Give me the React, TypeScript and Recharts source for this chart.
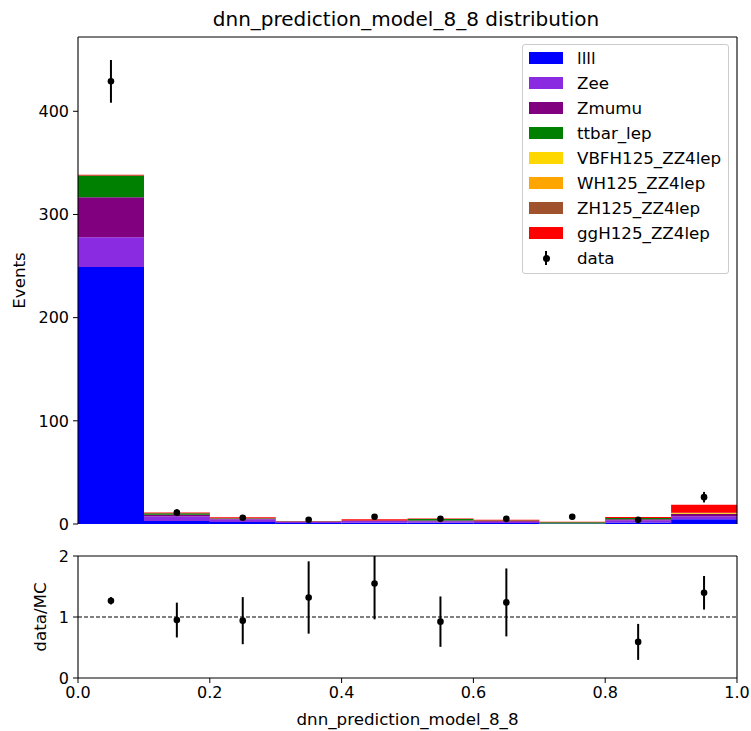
import React from 'react';
import { ComposedChart, Bar, Line, XAxis, YAxis, ErrorBar, ReferenceLine } from 'recharts';

const bins = ['0.05', '0.15', '0.25', '0.35', '0.45', '0.55', '0.65', '0.75', '0.85', '0.95'];
const binCenters = [0.05, 0.15, 0.25, 0.35, 0.45, 0.55, 0.65, 0.75, 0.85, 0.95];
const xTicks = [0, 0.2, 0.4, 0.6, 0.8, 1.0];
const eventTicks = [0, 100, 200, 300, 400];
const ratioTicks = [0, 1, 2];

const llll = [249, 3.0, 2.0, 1.0, 1.3, 1.2, 1.0, 0.4, 1.5, 4.5];
const Zee = [29, 4.5, 2.5, 1.0, 1.5, 1.5, 1.2, 0.1, 2.2, 2.9];
const Zmumu = [38.7, 1.5, 0.7, 0.4, 0.5, 0.8, 0.8, 0.1, 1.0, 2.2];
const ttbar_lep = [21, 1.5, 0.3, 0.2, 0.2, 1.4, 0.3, 1.2, 1.0, 0.4];
const VBFH125_ZZ4lep = [0.1, 0, 0, 0, 0, 0, 0, 0, 0, 0.6];
const WH125_ZZ4lep = [0, 0, 0, 0, 0, 0, 0, 0, 0, 0.1];
const ZH125_ZZ4lep = [0, 0, 0, 0, 0, 0, 0, 0, 0, 0.2];
const ggH125_ZZ4lep = [0.8, 0.7, 1.0, 0.4, 1.0, 0.5, 0.7, 0.3, 1.0, 7.8];

const dataCounts = [429, 11, 6, 4, 7, 5, 5, 7, 4, 26];
const dataErrors = [20.7, 3.3, 2.4, 2.0, 2.6, 2.2, 2.2, 2.6, 2.0, 5.1];

const ratioValues = [1.266, 0.95, 0.94, 1.32, 1.549, 0.924, 1.239, null, 0.592, 1.397];
const ratioErrors = [0.06, 0.285, 0.386, 0.593, 0.587, 0.413, 0.557, null, 0.295, 0.275];

const series = [
  { key: 'llll', label: 'llll', color: '#0000ff', values: llll },
  { key: 'Zee', label: 'Zee', color: '#8a2be2', values: Zee },
  { key: 'Zmumu', label: 'Zmumu', color: '#800080', values: Zmumu },
  { key: 'ttbar_lep', label: 'ttbar_lep', color: '#008000', values: ttbar_lep },
  { key: 'VBFH125_ZZ4lep', label: 'VBFH125_ZZ4lep', color: '#ffd700', values: VBFH125_ZZ4lep },
  { key: 'WH125_ZZ4lep', label: 'WH125_ZZ4lep', color: '#ffa500', values: WH125_ZZ4lep },
  { key: 'ZH125_ZZ4lep', label: 'ZH125_ZZ4lep', color: '#a0522d', values: ZH125_ZZ4lep },
  { key: 'ggH125_ZZ4lep', label: 'ggH125_ZZ4lep', color: '#ff0000', values: ggH125_ZZ4lep },
];

const mainData = bins.map((b, i) => {
  const row: any = { bin: b, x: binCenters[i], data: dataCounts[i], dataErr: dataErrors[i] };
  series.forEach((s) => { row[s.key] = s.values[i]; });
  return row;
});

const ratioData = bins.map((b, i) => ({ bin: b, x: binCenters[i], ratio: ratioValues[i], ratioErr: ratioErrors[i] }));

const FONT = '"DejaVu Sans", sans-serif';
const tickStyle = { fill: '#000', fontSize: 16, fontFamily: FONT };
const tickStyleRatio = { fill: '#000', fontSize: 16, fontFamily: FONT };
const axisLine = { stroke: '#000', strokeWidth: 1.1 };
const frame = { stroke: '#000', strokeWidth: 1.1 };

export default function App() {
  return (
    <div style={{ position: 'absolute', left: 0, top: 0, width: 751, height: 731, background: '#fff', fontFamily: FONT }}>
      <div style={{ position: 'absolute', left: 0, width: 812, top: 7, textAlign: 'center', fontSize: 20, lineHeight: '24px', color: '#000' }}>
        dnn_prediction_model_8_8 distribution
      </div>

      <div style={{ position: 'absolute', left: 0, top: 0 }}>
        <ComposedChart width={751} height={540} data={mainData} margin={{ top: 37, right: 14, left: 18, bottom: 0 }} barCategoryGap={0} barGap={0}>
          <XAxis xAxisId="cat" dataKey="bin" type="category" scale="band" hide />
          <XAxis xAxisId="num" dataKey="x" type="number" domain={[0, 1]} ticks={xTicks} allowDataOverflow height={16}
            tickFormatter={() => ''} tickSize={5} axisLine={axisLine} tickLine={{ stroke: '#000' }} />
          <YAxis yAxisId="l" type="number" domain={[0, 472]} ticks={eventTicks} allowDataOverflow width={60}
            tick={tickStyle} tickSize={5} tickMargin={4} axisLine={axisLine} tickLine={{ stroke: '#000' }}
            label={{ content: () => (
              <text x={18.5} y={280.5} transform="rotate(-90, 18.5, 280.5)" textAnchor="middle" dominantBaseline="central"
                style={{ fontSize: 16.7, fontFamily: FONT, fill: '#000' }}>Events</text>
            ) }} />
          {series.map((s) => (
            <Bar key={s.key} xAxisId="cat" yAxisId="l" dataKey={s.key} stackId="mc" fill={s.color} stroke="none" isAnimationActive={false} />
          ))}
          <ReferenceLine xAxisId="num" yAxisId="l" y={472} {...frame} />
          <ReferenceLine xAxisId="num" yAxisId="l" x={1} {...frame} />
          <Line xAxisId="num" yAxisId="l" dataKey="data" stroke="none" isAnimationActive={false}
            dot={{ r: 3.3, fill: '#000', stroke: '#000', strokeWidth: 0 }} activeDot={false}>
            <ErrorBar dataKey="dataErr" width={0} stroke="#000" strokeWidth={2} direction="y" />
          </Line>
        </ComposedChart>
      </div>

      <div style={{ position: 'absolute', left: 522, top: 44, width: 207, height: 230, border: '1px solid #cccccc', borderRadius: 3, background: 'rgba(255,255,255,0.8)', boxSizing: 'border-box' }}>
        {series.map((s, i) => (
          <div key={s.key} style={{ position: 'absolute', left: 0, top: 13 + i * 25 - 12, height: 24, width: '100%' }}>
            <div style={{ position: 'absolute', left: 6, top: 6, width: 34, height: 12, background: s.color }} />
            <div style={{ position: 'absolute', left: 54, top: 0, fontSize: 16.7, lineHeight: '24px', color: '#000', whiteSpace: 'nowrap' }}>{s.label}</div>
          </div>
        ))}
        <div style={{ position: 'absolute', left: 0, top: 13 + 8 * 25 - 12, height: 24, width: '100%' }}>
          <div style={{ position: 'absolute', left: 22, top: 5, width: 2, height: 14, background: '#000' }} />
          <div style={{ position: 'absolute', left: 19.5, top: 8.5, width: 7, height: 7, borderRadius: '50%', background: '#000' }} />
          <div style={{ position: 'absolute', left: 54, top: 0, fontSize: 16.7, lineHeight: '24px', color: '#000' }}>data</div>
        </div>
      </div>

      <div style={{ position: 'absolute', left: 0, top: 540 }}>
        <ComposedChart width={751} height={191} data={ratioData} margin={{ top: 16, right: 14, left: 18, bottom: 0 }}>
          <XAxis xAxisId="num" dataKey="x" type="number" domain={[0, 1]} ticks={xTicks} allowDataOverflow height={53}
            tickFormatter={(v: number) => v.toFixed(1)} tick={tickStyleRatio} tickSize={5} tickMargin={4}
            axisLine={axisLine} tickLine={{ stroke: '#000' }}
            label={{ content: () => (
              <text x={407.5} y={185} textAnchor="middle" style={{ fontSize: 16.7, fontFamily: FONT, fill: '#000' }}>dnn_prediction_model_8_8</text>
            ) }} />
          <YAxis yAxisId="l" type="number" domain={[0, 2]} ticks={ratioTicks} allowDataOverflow width={60}
            tick={tickStyleRatio} tickSize={5} tickMargin={4} axisLine={axisLine} tickLine={{ stroke: '#000' }}
            label={{ content: () => (
              <text x={40} y={77} transform="rotate(-90, 40, 77)" textAnchor="middle" dominantBaseline="central"
                style={{ fontSize: 16.7, fontFamily: FONT, fill: '#000' }}>data/MC</text>
            ) }} />
          <ReferenceLine xAxisId="num" yAxisId="l" y={2} {...frame} />
          <ReferenceLine xAxisId="num" yAxisId="l" x={1} {...frame} />
          <ReferenceLine xAxisId="num" yAxisId="l" y={1} stroke="#000" strokeWidth={1} strokeDasharray="4 2" />
          <Line xAxisId="num" yAxisId="l" dataKey="ratio" stroke="none" isAnimationActive={false} connectNulls={false}
            dot={{ r: 3.3, fill: '#000', stroke: '#000', strokeWidth: 0 }} activeDot={false}>
            <ErrorBar
              dataKey={(d: any) => (d.ratioErr == null ? null : [d.ratioErr, Math.min(d.ratioErr, 2 - d.ratio)])}
              width={0} stroke="#000" strokeWidth={2} direction="y" />
          </Line>
        </ComposedChart>
      </div>
    </div>
  );
}
